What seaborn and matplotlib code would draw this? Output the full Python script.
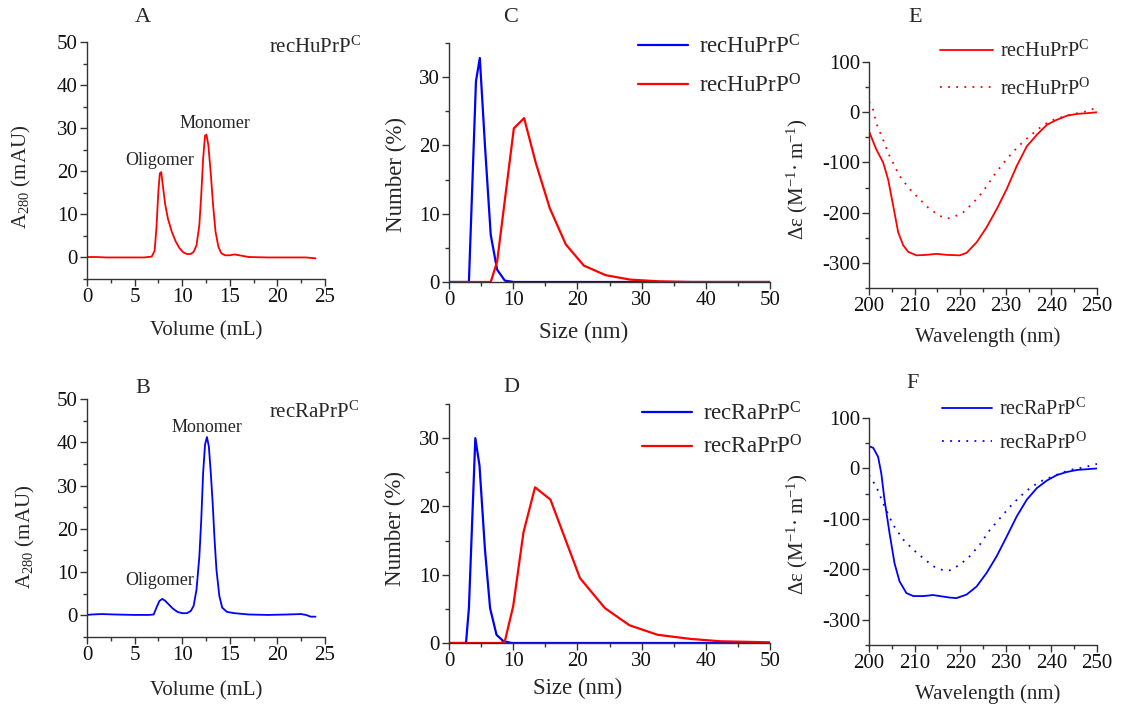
import matplotlib
matplotlib.use("Agg")
import matplotlib.pyplot as plt
import matplotlib.ticker as ticker
import seaborn as sns

# --- SEC data (panels A, B) ---
hu_vol = [0, 1, 2, 4, 6, 6.8, 7.1, 7.3, 7.5, 7.65, 7.8, 7.95, 8.2, 8.5, 8.9, 9.3, 9.7, 10.1,
          10.5, 10.9, 11.2, 11.5, 11.8, 12.0, 12.2, 12.4, 12.55, 12.75, 13.0, 13.25, 13.5, 13.8,
          14.1, 14.5, 15.0, 15.5, 16.0, 17.0, 19.0, 21.0, 23.0, 24.0]
hu_a280 = [0.1, 0.1, 0.0, 0.0, 0.0, 0.2, 1.5, 7.0, 15.5, 19.5, 19.8, 17.0, 12.5, 9.0, 6.0, 3.8,
           2.2, 1.2, 0.8, 0.8, 1.3, 2.8, 7.5, 14.5, 23.0, 28.3, 28.5, 26.0, 19.5, 12.0, 6.0, 2.5,
           1.0, 0.5, 0.5, 0.7, 0.5, 0.1, 0.0, 0.0, 0.0, -0.2]
ra_vol = [0, 0.5, 1.5, 3, 5, 6.5, 7.0, 7.3, 7.6, 7.9, 8.2, 8.6, 9.0, 9.5, 10.0, 10.5, 10.9, 11.2,
          11.5, 11.8, 12.0, 12.2, 12.4, 12.6, 12.8, 13.0, 13.2, 13.4, 13.6, 13.9, 14.2, 14.7,
          15.5, 17, 19, 21, 22.5, 23.0, 23.5, 24.0]
ra_a280 = [0.1, 0.2, 0.3, 0.2, 0.1, 0.1, 0.2, 1.8, 3.3, 3.8, 3.4, 2.5, 1.6, 0.8, 0.5, 0.5, 1.0,
           2.2, 5.9, 13.5, 22.0, 33.0, 39.5, 41.2, 39.0, 33.0, 26.0, 17.5, 10.5, 4.5, 1.8, 0.8,
           0.5, 0.2, 0.1, 0.2, 0.3, 0.1, -0.3, -0.3]

# --- DLS data (panels C, D) ---
hu_c_size = [0, 3.1, 4.2, 4.8, 5.6, 6.5, 7.5, 8.7, 10.1, 50]
hu_c_num = [0, 0, 29.4, 32.8, 20.0, 6.9, 1.8, 0.2, 0.0, 0.0]
hu_o_size = [0, 6.5, 7.5, 8.7, 10.1, 11.7, 13.5, 15.7, 18.2, 21.0, 24.4, 28.2, 32.7, 37.8, 50]
hu_o_num = [0, 0, 3.0, 12.0, 22.5, 24.0, 17.5, 10.8, 5.5, 2.4, 1.0, 0.35, 0.1, 0.0, 0.0]
ra_c_size = [0, 2.65, 3.1, 4.1, 4.75, 5.6, 6.4, 7.4, 8.5, 9.8, 50]
ra_c_num = [0, 0, 5.1, 30.0, 26.0, 13.7, 5.1, 1.2, 0.25, 0, 0]
ra_o_size = [0, 8.0, 8.7, 10.0, 11.6, 13.4, 15.8, 18.2, 20.4, 24.3, 28.1, 32.5, 37.6, 42.3, 50]
ra_o_num = [0, 0, 0.25, 5.4, 16.2, 22.8, 21.0, 15.0, 9.5, 5.1, 2.6, 1.2, 0.6, 0.25, 0.1]

# --- CD data (panels E, F) ---
wl_hu_c = [200, 201.6, 203.1, 204.2, 205.3, 206.4, 207.5, 208.6, 210.4, 212.6, 214.8, 217, 219.9,
           221.4, 223.6, 225.8, 228, 230.2, 232.4, 234.6, 236.8, 239, 241.2, 243.4, 245.6, 247.8, 250]
cd_hu_c = [-38, -74, -100, -134, -186, -239, -265, -278, -285, -284, -282, -284, -285, -280, -259,
           -229, -193, -153, -107, -68, -45, -25, -15, -7, -3.3, -2, 0]
wl_hu_o = [200, 200.9, 201.6, 203.1, 204.5, 206.7, 208.9, 211.1, 213.3, 215.5, 217, 218.5, 220.7,
           222.9, 225.1, 227.3, 229.5, 231.7, 233.9, 236.1, 238.3, 240.5, 242.7, 244.9, 247, 250]
cd_hu_o = [21, 5, -22, -55, -87, -127, -153, -173, -193, -206, -212, -209, -199, -180, -157, -127,
           -101, -78, -58, -41, -25, -15, -8.5, -3.3, 0, 9]
wl_ra_c = [200, 200.9, 202, 202.7, 203.4, 204.5, 205.6, 206.7, 208.2, 209.7, 211.9, 214.1, 215.5,
           217.7, 219.2, 221.4, 223.6, 225.8, 228, 230.2, 232.4, 234.6, 236.8, 239, 241.2, 243.4,
           245.6, 250]
cd_ra_c = [44, 41, 23, -10, -62, -128, -188, -224, -247, -253, -253, -251, -253, -256, -257, -250,
           -234, -207, -174, -135, -95, -62, -39, -24, -13, -7, -3, 0]
wl_ra_o = [200, 201.6, 203.1, 205.3, 207.5, 209.7, 211.9, 214.1, 216.3, 217.7, 219.9, 222.1, 224.3,
           226.5, 228.7, 230.9, 233.1, 235.3, 237.5, 239.7, 241.9, 244, 247, 250]
cd_ra_o = [-13, -36, -69, -112, -141, -161, -178, -194, -202, -202, -191, -174, -151, -122, -99,
           -76, -56, -39, -26, -18, -10, -3, 2, 9]

HU_C = "recHuPrP$^{\\mathrm{C}}$"
HU_O = "recHuPrP$^{\\mathrm{O}}$"
RA_C = "recRaPrP$^{\\mathrm{C}}$"
RA_O = "recRaPrP$^{\\mathrm{O}}$"
RED = "#ff0000"
BLUE = "#0000ff"
DOTS = (0, (1, 3.5))

sns.set_style("ticks")
plt.rcParams['font.family'] = ['Liberation Serif', 'DejaVu Serif']
plt.rcParams['mathtext.fontset'] = 'custom'
plt.rcParams['mathtext.rm'] = 'Liberation Serif'
plt.rcParams['mathtext.it'] = 'Liberation Serif:italic'
plt.rcParams['axes.unicode_minus'] = False

W, H = 1129, 706
fig = plt.figure(figsize=(W / 100, H / 100), dpi=100)


def make_axes(left, top, right, bottom):
    return fig.add_axes([left / W, 1 - bottom / H, (right - left) / W, (bottom - top) / H])


def style(ax, xlim, ylim, xmaj, xmin, ymaj, ymin):
    ax.set_xlim(*xlim)
    ax.set_ylim(*ylim)
    ax.xaxis.set_major_locator(ticker.MultipleLocator(xmaj))
    ax.xaxis.set_minor_locator(ticker.MultipleLocator(xmin))
    ax.yaxis.set_major_locator(ticker.MultipleLocator(ymaj))
    ax.yaxis.set_minor_locator(ticker.MultipleLocator(ymin))
    ax.tick_params(which='major', direction='out', length=5, width=1, labelsize=15, pad=1.5,
                   color='#333333', labelcolor='#111111')
    ax.tick_params(which='minor', direction='out', length=3, width=1, color='#333333')
    for s in ['top', 'right']:
        ax.spines[s].set_visible(False)
    for s in ['left', 'bottom']:
        ax.spines[s].set_linewidth(1)
        ax.spines[s].set_color('#333333')
    ax.set_facecolor('white')


def labels(ax, xl, yl, xpos, ypos, size):
    ax.set_xlabel(xl, fontsize=size)
    ax.set_ylabel(yl, fontsize=size)
    ax.xaxis.set_label_coords(*xpos)
    ax.yaxis.set_label_coords(*ypos)
    ax.xaxis.label.set_va('top')


# ---------- A ----------
axA = make_axes(87, 42, 325, 279)
sns.lineplot(x=hu_vol, y=hu_a280, ax=axA, color=RED, lw=1.3, estimator=None, sort=False)
style(axA, (0, 25), (-5, 50), 5, 2.5, 10, 5)
labels(axA, "Volume (mL)", "A$_{280}$ (mAU)", (0.5, -0.18), (-0.225, 0.43), 15)
axA.text(19.1, 48.8, HU_C, fontsize=15, va='center', ha='left')
axA.text(13.4, 31.0, "Monomer", fontsize=13, ha='center', va='center')
axA.text(7.6, 22.4, "Oligomer", fontsize=13, ha='center', va='center')

# ---------- B ----------
axB = make_axes(87, 399, 325, 637)
sns.lineplot(x=ra_vol, y=ra_a280, ax=axB, color=BLUE, lw=1.3, estimator=None, sort=False)
style(axB, (0, 25), (-5, 50), 5, 2.5, 10, 5)
labels(axB, "Volume (mL)", "A$_{280}$ (mAU)", (0.5, -0.185), (-0.21, 0.42), 15)
axB.text(19.1, 47.0, RA_C, fontsize=15, va='center', ha='left')
axB.text(12.6, 43.3, "Monomer", fontsize=13, ha='center', va='center')
axB.text(7.6, 8.1, "Oligomer", fontsize=13, ha='center', va='center')

# ---------- C ----------
axC = make_axes(449, 43, 770, 282)
sns.lineplot(x=hu_c_size, y=hu_c_num, ax=axC, color=BLUE, lw=1.6, estimator=None, sort=False,
             label=HU_C)
sns.lineplot(x=hu_o_size, y=hu_o_num, ax=axC, color=RED, lw=1.6, estimator=None, sort=False,
             label=HU_O)
style(axC, (0, 50), (0, 35), 10, 5, 10, 5)
labels(axC, "Size (nm)", "Number (%)", (0.42, -0.165), (-0.13, 0.45), 16.5)
axC.legend(loc='upper left', bbox_to_anchor=(638 / W, 1 - 35 / H), bbox_transform=fig.transFigure,
           frameon=False, borderpad=0, borderaxespad=0, handlelength=2.2, handletextpad=0.45,
           labelspacing=0.7, fontsize=16.5)

# ---------- D ----------
axD = make_axes(449, 404, 770, 643)
sns.lineplot(x=ra_c_size, y=ra_c_num, ax=axD, color=BLUE, lw=1.6, estimator=None, sort=False,
             label=RA_C)
sns.lineplot(x=ra_o_size, y=ra_o_num, ax=axD, color=RED, lw=1.6, estimator=None, sort=False,
             label=RA_O)
style(axD, (0, 50), (0, 35), 10, 5, 10, 5)
labels(axD, "Size (nm)", "Number (%)", (0.40, -0.145), (-0.135, 0.48), 16.5)
axD.legend(loc='upper left', bbox_to_anchor=(642 / W, 1 - 402 / H), bbox_transform=fig.transFigure,
           frameon=False, borderpad=0, borderaxespad=0, handlelength=2.2, handletextpad=0.45,
           labelspacing=0.45, fontsize=16.5)

# ---------- E ----------
axE = make_axes(869, 62, 1097, 288)
sns.lineplot(x=wl_hu_c, y=cd_hu_c, ax=axE, color=RED, lw=1.3, estimator=None, sort=False,
             label=HU_C)
sns.lineplot(x=wl_hu_o, y=cd_hu_o, ax=axE, color=RED, lw=1.3, estimator=None, sort=False,
             linestyle=DOTS, label=HU_O)
style(axE, (200, 250), (-350, 100), 10, 5, 100, 50)
labels(axE, "Wavelength (nm)", "Δε (M$^{-1}$· m$^{-1}$)", (0.52, -0.175), (-0.26, 0.48), 15)
axE.legend(loc='upper left', bbox_to_anchor=(940 / W, 1 - 41 / H), bbox_transform=fig.transFigure,
           frameon=False, borderpad=0, borderaxespad=0, handlelength=2.65, handletextpad=0.35,
           labelspacing=0.8, fontsize=14.5)

# ---------- F ----------
axF = make_axes(869, 418, 1097, 645)
sns.lineplot(x=wl_ra_c, y=cd_ra_c, ax=axF, color=BLUE, lw=1.3, estimator=None, sort=False,
             label=RA_C)
sns.lineplot(x=wl_ra_o, y=cd_ra_o, ax=axF, color=BLUE, lw=1.3, estimator=None, sort=False,
             linestyle=DOTS, label=RA_O)
style(axF, (200, 250), (-350, 100), 10, 5, 100, 50)
labels(axF, "Wavelength (nm)", "Δε (M$^{-1}$· m$^{-1}$)", (0.52, -0.175), (-0.26, 0.49), 15)
axF.legend(loc='upper left', bbox_to_anchor=(942 / W, 1 - 399 / H), bbox_transform=fig.transFigure,
           frameon=False, borderpad=0, borderaxespad=0, handlelength=2.5, handletextpad=0.35,
           labelspacing=0.6, fontsize=14.5)

# panel letters
for letter, (px, py) in {"A": (143, 18), "C": (511, 18), "E": (915, 18),
                         "B": (143, 388), "D": (511, 387), "F": (913, 383)}.items():
    fig.text(px / W, 1 - py / H, letter, fontsize=16, ha='center', va='center')

fig.savefig("out.png", dpi=100, facecolor='white')
